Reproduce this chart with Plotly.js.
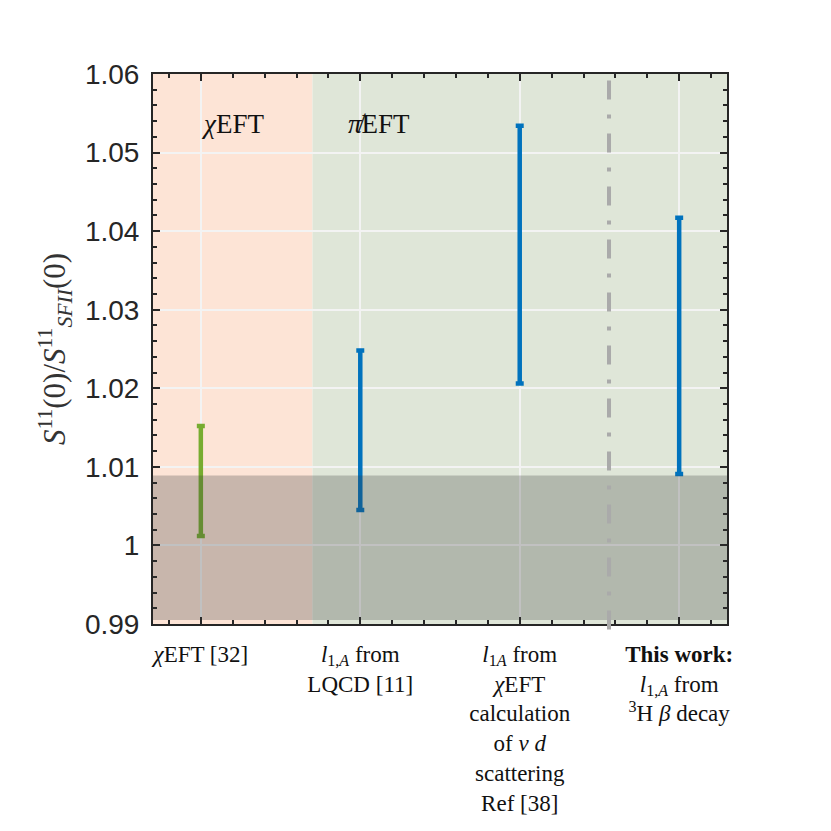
<!DOCTYPE html>
<html>
<head>
<meta charset="utf-8">
<script src="https://cdn.plot.ly/plotly-3.0.1.min.js"></script>
<style>
  html, body { margin: 0; padding: 0; background: #fff; }
  #chart { width: 831px; height: 831px; }
</style>
</head>
<body>
<div id="chart"></div>
<script>
"use strict";

// Category positions and their (multi-line) labels.
const positions = [1, 2, 3, 4];
const categoryLabels = [
  "<i>χ</i>EFT [32]",
  "<i>l</i><sub>1,<i>A</i></sub> from<br>LQCD [11]",
  "<i>l</i><sub>1<i>A</i></sub> from<br><i>χ</i>EFT<br>calculation<br>of <i>ν d</i><br>scattering<br>Ref [38]",
  "<b>This work:</b><br><i>l</i><sub>1,<i>A</i></sub> from<br><sup>3</sup>H <i>β</i> decay",
];

// Error-bar ranges.
const lowerBound = [1.0012, 1.0045, 1.0206, 1.0091];
const upperBound = [1.0152, 1.0248, 1.0534, 1.0417];
const barColors = ["#77ac30", "#0072bd", "#0072bd", "#0072bd"];

// Background regions (x extents) and grey band (y extent).
const chiRegion = [0.7, 1.7];
const pionlessRegion = [1.7, 4.3];
const greyBand = [0.9905, 1.0089];
const dividerX = 3.56;

const yTickVals = [0.99, 1.0, 1.01, 1.02, 1.03, 1.04, 1.05, 1.06];
const yTickText = ["0.99", "1", "1.01", "1.02", "1.03", "1.04", "1.05", "1.06"];

const SERIF = "Liberation Serif, Times New Roman, serif";
const SANS = "Liberation Sans, Arial, sans-serif";
const INK = "#262626";

// One trace per colour; markers hidden, only the error bars show.
const colorGroups = [...new Set(barColors)];
const traces = colorGroups.map((color) => {
  const idx = positions.map((_, i) => i).filter((i) => barColors[i] === color);
  const mid = idx.map((i) => (lowerBound[i] + upperBound[i]) / 2);
  return {
    type: "scatter",
    mode: "markers",
    x: idx.map((i) => positions[i]),
    y: mid,
    marker: { size: 1, opacity: 0 },
    error_y: {
      type: "data",
      symmetric: false,
      array: idx.map((i, k) => upperBound[i] - mid[k]),
      arrayminus: idx.map((i, k) => mid[k] - lowerBound[i]),
      color,
      thickness: 4.5,
      width: 4,
    },
    hoverinfo: "skip",
    showlegend: false,
  };
});

const axisBase = {
  showline: true,
  linecolor: INK,
  linewidth: 2,
  mirror: "allticks",
  ticks: "inside",
  ticklen: 7,
  tickwidth: 2,
  tickcolor: INK,
  showgrid: true,
  gridcolor: "#f3f3f3",
  gridwidth: 2,
  zeroline: false,
  fixedrange: true,
};

const layout = {
  width: 831,
  height: 831,
  paper_bgcolor: "#ffffff",
  plot_bgcolor: "#ffffff",
  margin: { l: 153, r: 104, t: 74, b: 207 },
  showlegend: false,
  xaxis: {
    ...axisBase,
    range: [0.7, 4.3],
    tickvals: positions,
    ticktext: categoryLabels,
    tickangle: 0,
    tickfont: { family: SERIF, size: 23, color: "#111111" },
    ticklabelstandoff: 8,
    minor: { dtick: 0.2, ticks: "inside", ticklen: 4, tickwidth: 2, tickcolor: INK, showgrid: false },
  },
  yaxis: {
    ...axisBase,
    range: [0.99, 1.06],
    tickvals: yTickVals,
    ticktext: yTickText,
    tickfont: { family: SANS, size: 28, color: INK },
    ticklabelstandoff: 6,
    minor: { dtick: 0.002, ticks: "inside", ticklen: 4, tickwidth: 2, tickcolor: INK, showgrid: false },
    title: {
      text: "<i>S</i><sup>11</sup>(0)/<i>S</i><sup>11</sup><sub><i>SFII</i></sub>(0)",
      font: { family: SERIF, size: 31, color: "#333333" },
      standoff: 10,
    },
  },
  shapes: [
    {
      type: "rect", layer: "below", xref: "x", yref: "paper",
      x0: chiRegion[0], x1: chiRegion[1], y0: 0, y1: 1,
      fillcolor: "#fde4d6", line: { width: 0 },
    },
    {
      type: "rect", layer: "below", xref: "x", yref: "paper",
      x0: pionlessRegion[0], x1: pionlessRegion[1], y0: 0, y1: 1,
      fillcolor: "#dfe6d8", line: { width: 0 },
    },
    {
      type: "rect", layer: "above", xref: "x", yref: "y",
      x0: chiRegion[0], x1: pionlessRegion[1], y0: greyBand[0], y1: greyBand[1],
      fillcolor: "rgba(58,58,58,0.27)", line: { width: 0 },
    },
    {
      type: "line", layer: "above", xref: "x", yref: "paper",
      x0: dividerX, x1: dividerX, y0: -0.01, y1: 1,
      line: { color: "#aaaaaa", width: 4, dash: "19px,15px,4px,15px" },
    },
  ],
  annotations: [
    {
      xref: "x", yref: "y", x: 0.99, y: 1.0537, xanchor: "left", yanchor: "middle",
      text: "<i>χ</i>EFT", showarrow: false,
      font: { family: SERIF, size: 27, color: "#111111" },
    },
    {
      xref: "x", yref: "y", x: 1.91, y: 1.0537, xanchor: "left", yanchor: "middle",
      text: "<i>π̸</i>EFT", showarrow: false,
      font: { family: SERIF, size: 27, color: "#111111" },
    },
  ],
};

Plotly.newPlot("chart", traces, layout, { displayModeBar: false, staticPlot: true });
</script>
</body>
</html>
